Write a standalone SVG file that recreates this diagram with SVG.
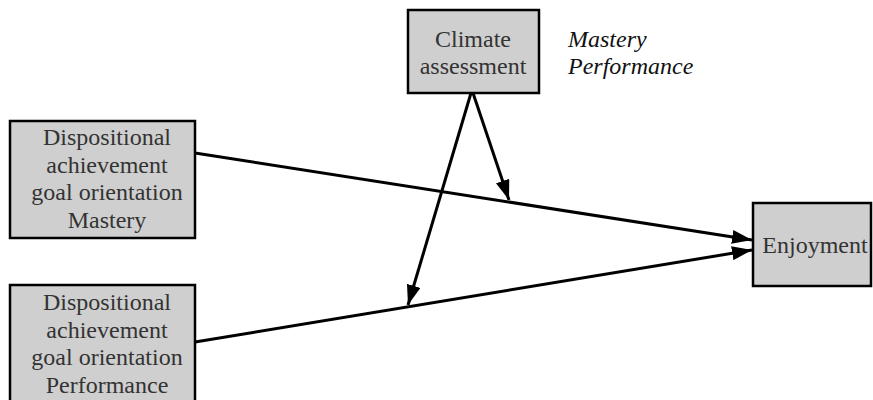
<svg xmlns="http://www.w3.org/2000/svg" width="873" height="400" viewBox="0 0 873 400">
<defs>
<style>
.box{fill:#cfcfcf;stroke:#000;stroke-width:2.5}
text{font-family:'Liberation Serif','DejaVu Serif',serif;font-size:24px}
.t{fill:#333;text-anchor:middle}
.it{font-style:italic;fill:#111}
.c{stroke:#000;stroke-width:3;fill:none}
</style>
<marker id="ah" viewBox="0 0 20 14" refX="20" refY="7" markerWidth="20" markerHeight="14" markerUnits="userSpaceOnUse" orient="auto">
<path d="M0,0 L20,7 L0,14 z" fill="#000"/>
</marker>
</defs>
<rect width="873" height="400" fill="#fff"/>
<g id="connectors">
<line class="c" x1="195" y1="153" x2="752" y2="240" marker-end="url(#ah)"/>
<line class="c" x1="195" y1="342" x2="752" y2="250" marker-end="url(#ah)"/>
<line class="c" x1="471" y1="93" x2="408" y2="305" marker-end="url(#ah)"/>
<line class="c" x1="473" y1="93" x2="509" y2="200" marker-end="url(#ah)"/>
</g>
<g id="climate">
<rect class="box" x="408" y="10" width="131" height="83"/>
<text class="t" x="473" y="47">Climate</text>
<text class="t" x="473" y="74">assessment</text>
</g>
<g id="climate-label">
<text class="it" x="568" y="47">Mastery</text>
<text class="it" x="568" y="74">Performance</text>
</g>
<g id="mastery">
<rect class="box" x="10" y="121" width="185" height="117"/>
<text class="t" x="107" y="145">Dispositional</text>
<text class="t" x="107" y="173">achievement</text>
<text class="t" x="107" y="200">goal orientation</text>
<text class="t" x="107" y="228">Mastery</text>
</g>
<g id="performance">
<rect class="box" x="10" y="285" width="185" height="130"/>
<text class="t" x="107" y="310">Dispositional</text>
<text class="t" x="107" y="338">achievement</text>
<text class="t" x="107" y="365">goal orientation</text>
<text class="t" x="107" y="393">Performance</text>
</g>
<g id="enjoyment">
<rect class="box" x="753" y="203" width="118" height="83"/>
<text class="t" x="815" y="253">Enjoyment</text>
</g>
</svg>
